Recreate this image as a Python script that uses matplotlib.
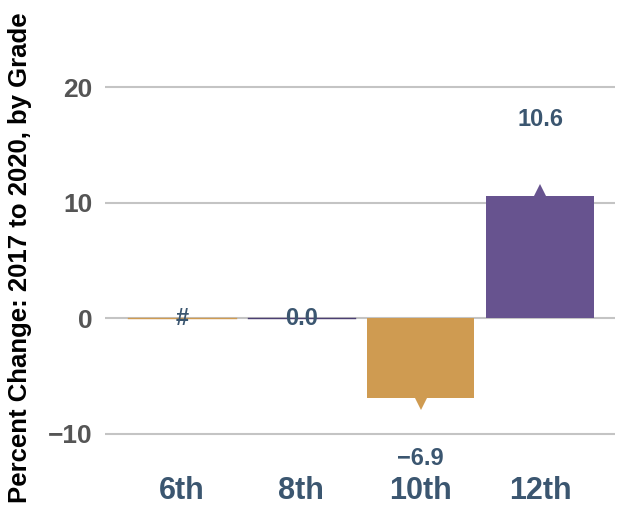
import matplotlib
matplotlib.use("Agg")
import matplotlib.pyplot as plt

plt.rcParams['font.family'] = ['Liberation Sans', 'DejaVu Sans']

grades = ["6th", "8th", "10th", "12th"]
values = [0.0, 0.0, -6.9, 10.6]
labels = ["#", "0.0", "\u22126.9", "10.6"]
colors = ["#CF9B51", "#4B3F72", "#CF9B51", "#67538F"]
significance = [None, None, "down", "up"]
yticks = [-10, 0, 10, 20]
ytick_labels = ["\u221210", "0", "10", "20"]

fig = plt.figure(figsize=(6.24, 5.15), dpi=100)
ax = fig.add_axes([0.168, 0.091, 0.818, 0.829])

x = list(range(len(grades)))
ax.set_ylim(-13, 24)
ax.set_xlim(-0.645, 3.63)
ax.set_yticks(yticks)
ax.set_yticklabels(ytick_labels)
ax.yaxis.grid(True, color="#c4c4c4", linewidth=1.5)
ax.set_axisbelow(True)

width = 0.9
for i, (v, c) in enumerate(zip(values, colors)):
    if v == 0:
        ax.plot([i - width / 2, i + width / 2], [0, 0], color=c, linewidth=1.0, zorder=3)
    else:
        ax.bar(i, v, width=width, color=c, zorder=3)

for i, (v, s, c) in enumerate(zip(values, significance, colors)):
    if s == "up":
        ax.plot(i, v + 0.35, marker="^", markersize=11, color=c, zorder=2.9, markeredgewidth=0)
    elif s == "down":
        ax.plot(i, v - 0.35, marker="v", markersize=11, color=c, zorder=2.9, markeredgewidth=0)

label_color = "#3B5670"
for i, (v, lab) in enumerate(zip(values, labels)):
    if v > 0:
        off = 55
    elif v < 0:
        off = -44
    else:
        off = 0
    ax.annotate(lab, (i, v), xytext=(0, off), textcoords="offset points",
                ha="center", va="center", fontsize=17, fontweight="bold",
                color=label_color, zorder=5)

ax.set_xticks(x)
ax.set_xticklabels(grades, fontsize=22, fontweight="bold", color=label_color)
ax.tick_params(axis="x", length=0, pad=6)
ax.tick_params(axis="y", length=0, labelsize=19, labelcolor="#555555", pad=9)
for lab in ax.get_yticklabels():
    lab.set_fontweight("bold")
for sp in ax.spines.values():
    sp.set_visible(False)

ax.set_ylabel("Percent Change: 2017 to 2020, by Grade", fontsize=18.5,
              fontweight="bold", color="black")
ax.yaxis.set_label_coords(-0.143, 0.493)

fig.savefig("out.png", dpi=100)
